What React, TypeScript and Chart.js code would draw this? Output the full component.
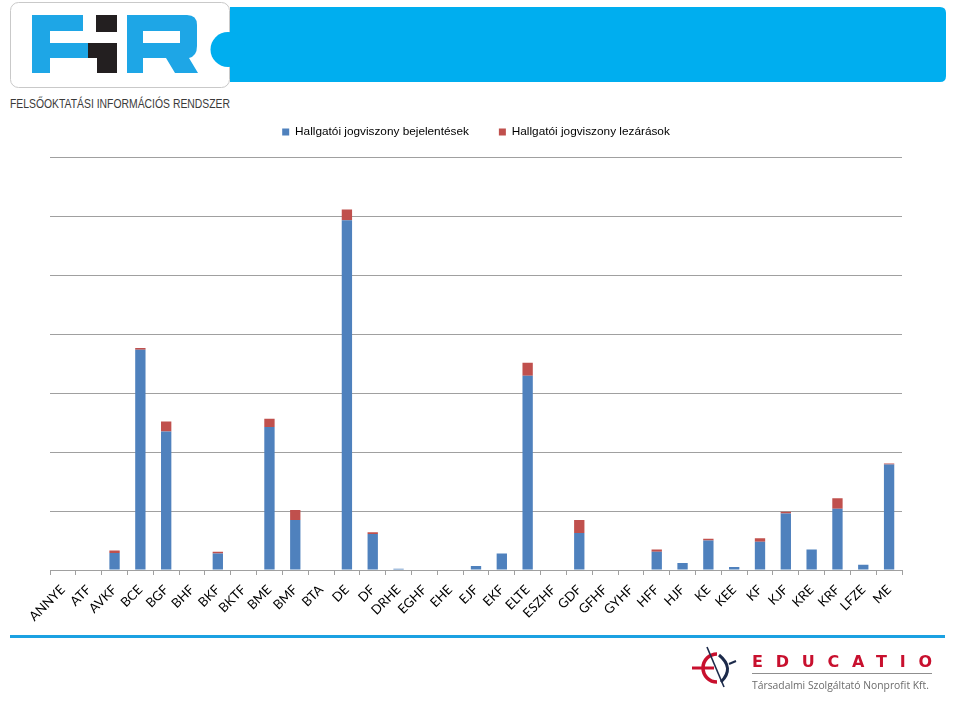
import React, { useEffect, useRef } from "react";
import { Chart, registerables } from "chart.js";

Chart.register(...registerables);

const categories = [
  "ANNYE", "ATF", "AVKF", "BCE", "BGF", "BHF", "BKF", "BKTF", "BME", "BMF", "BTA",
  "DE", "DF", "DRHE", "EGHF", "EHE", "EJF", "EKF", "ELTE", "ESZHF", "GDF", "GFHF",
  "GYHF", "HFF", "HJF", "KE", "KEE", "KF", "KJF", "KRE", "KRF", "LFZE", "ME",
];

const bejelentesek = [
  0, 0, 29, 374, 235, 1, 28, 0, 243, 85, 1,
  594, 61, 2, 0, 0, 7, 28, 330, 0, 63, 1,
  0, 31, 12, 50, 5, 48, 96, 35, 104, 9, 179,
];

const lezarasok = [
  0, 0, 4, 3, 17, 0, 3, 0, 14, 17, 0,
  18, 3, 0, 0, 0, 0, 0, 22, 0, 22, 0,
  0, 4, 0, 3, 0, 6, 3, 0, 18, 0, 2,
];

const seriesNames = ["Hallgatói jogviszony bejelentések", "Hallgatói jogviszony lezárások"];
const yMax = 700;
const yStep = 100;

const legendSpacer = {
  id: "legendSpacer",
  beforeLayout(chart: any) {
    const lg = chart.legend;
    if (lg && !lg.__patched) {
      const orig = lg.fit;
      lg.fit = function () {
        orig.call(this);
        this.height += 10;
      };
      lg.__patched = true;
    }
  },
};

function BarChart() {
  const ref = useRef<HTMLCanvasElement>(null);
  useEffect(() => {
    if (!ref.current) return;
    const chart = new Chart(ref.current, {
      type: "bar",
      data: {
        labels: categories,
        datasets: [
          {
            label: seriesNames[0],
            data: bejelentesek,
            backgroundColor: "#4f81bd",
            barPercentage: 0.4,
            categoryPercentage: 1,
          },
          {
            label: seriesNames[1],
            data: lezarasok,
            backgroundColor: "#c0504d",
            barPercentage: 0.4,
            categoryPercentage: 1,
          },
        ],
      },
      options: {
        animation: false,
        responsive: true,
        maintainAspectRatio: false,
        layout: { padding: { left: 50, right: 57, top: 16, bottom: 10 } },
        plugins: {
          tooltip: { enabled: false },
          legend: {
            position: "top",
            labels: {
              boxWidth: 7,
              boxHeight: 7,
              padding: 30,
              color: "#000",
              font: { family: "'Liberation Sans', Arial, sans-serif", size: 11.8 },
            },
          },
        },
        scales: {
          x: {
            stacked: true,
            grid: {
              display: true,
              drawOnChartArea: false,
              drawTicks: true,
              tickLength: 5,
              color: "#a0a0a0",
            },
            border: { display: true, color: "#a0a0a0", width: 1 },
            ticks: {
              autoSkip: false,
              maxRotation: 45,
              minRotation: 45,
              color: "#000",
              padding: 7,
              font: { family: "Lato, 'Open Sans', sans-serif", size: 13 },
            },
            afterFit(scale: any) {
              scale.height = 60;
            },
          },
          y: {
            stacked: true,
            min: 0,
            max: yMax,
            ticks: { display: false, stepSize: yStep },
            grid: { color: "#a0a0a0", drawTicks: false, lineWidth: 1 },
            border: { display: false },
          },
        },
      },
      plugins: [legendSpacer],
    });
    return () => chart.destroy();
  }, []);
  return <canvas ref={ref} />;
}

function FirLogo() {
  return (
    <svg width={959} height={115} style={{ position: "absolute", left: 0, top: 0 }}>
      <rect x={10.5} y={2.5} width={219} height={85} rx={8} fill="#fff" stroke="#c9c9c9" />
      <path d="M230,7 H940 Q946,7 946,13 V76 Q946,82 940,82 H230 Z" fill="#00aeef" />
      <circle cx={228} cy={49.5} r={17.5} fill="#00aeef" />
      {/* F */}
      <rect x={32} y={15} width={18} height={58} fill="#1ea6e6" />
      <rect x={32} y={15} width={51} height={16} fill="#1ea6e6" />
      <rect x={32} y={43} width={58} height={15} fill="#1ea6e6" />
      {/* i */}
      <rect x={96} y={15} width={21} height={17} fill="#231f20" />
      <path d="M88,43 H117 V73 H97 V58 H88 Z" fill="#231f20" />
      {/* R */}
      <path
        d="M127,15 H187 Q197,15 197,25 V46 Q197,56 189,58 L198,73 H175 L166,58 H143 V73 H127 Z M143,31 V43 H180 V31 Z"
        fill="#1ea6e6"
        fillRule="evenodd"
      />
      <text
        x={10}
        y={108}
        fontSize={13}
        fill="#3a3a3a"
        fontFamily="'Liberation Sans', Arial, sans-serif"
        textLength={220}
        lengthAdjust="spacingAndGlyphs"
      >
        FELSŐOKTATÁSI INFORMÁCIÓS RENDSZER
      </text>
    </svg>
  );
}

function Footer() {
  return (
    <svg width={959} height={80} style={{ position: "absolute", left: 0, top: 621 }}>
      <g transform="translate(0,-621)">
        <rect x={10} y={635} width={935} height={3} fill="#1ba1e2" />
        {/* symbol */}
        <path d="M717,654 A14,14 0 1 0 717,682" fill="none" stroke="#c8102e" strokeWidth={3.5} />
        <line x1={692} y1={668} x2={714} y2={668} stroke="#c8102e" strokeWidth={3} />
        <path d="M719,655 Q735,668 721,682" fill="none" stroke="#1c2a4a" strokeWidth={3} />
        <line x1={729} y1={664} x2={736} y2={661} stroke="#1c2a4a" strokeWidth={2} />
        <line x1={707} y1={647} x2={724} y2={687} stroke="#1c2a4a" strokeWidth={1.6} />
        <text
          x={752}
          y={667}
          fontSize={16}
          fontWeight="bold"
          fill="#c8102e"
          fontFamily="'DejaVu Sans', sans-serif"
          textLength={180}
          lengthAdjust="spacing"
        >
          EDUCATIO
        </text>
        <line x1={752} y1={673.5} x2={932} y2={673.5} stroke="#8f8f8f" strokeWidth={1} />
        <text
          x={752}
          y={689}
          fontSize={11}
          fill="#6b6b6b"
          fontFamily="'Open Sans', sans-serif"
          textLength={177}
          lengthAdjust="spacingAndGlyphs"
        >
          Társadalmi Szolgáltató Nonprofit Kft.
        </text>
      </g>
    </svg>
  );
}

export default function App() {
  return (
    <div
      style={{
        position: "absolute",
        left: 0,
        top: 0,
        width: 959,
        height: 701,
        background: "#fff",
        overflow: "hidden",
      }}
    >
      <FirLogo />
      <div style={{ position: "absolute", left: 0, top: 80, width: 959, height: 560 }}>
        <BarChart />
      </div>
      <Footer />
    </div>
  );
}
